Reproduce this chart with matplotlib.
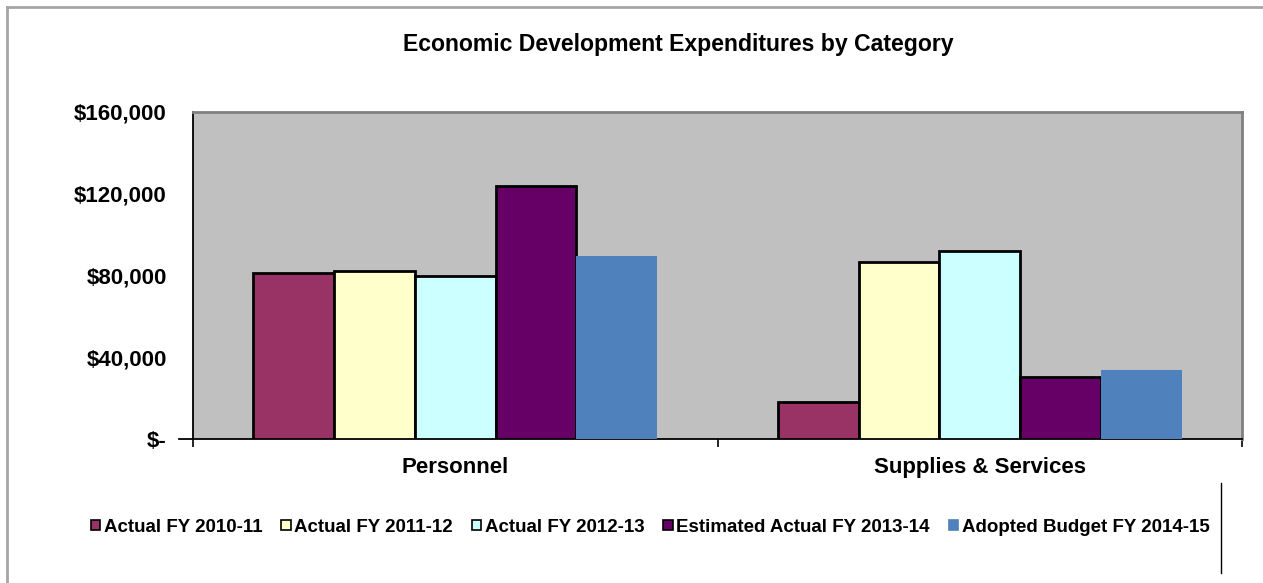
import numpy as np
import matplotlib
matplotlib.use("Agg")
import matplotlib.pyplot as plt
from matplotlib.patches import Patch
from matplotlib.lines import Line2D

plt.rcParams['font.family'] = ['Liberation Sans', 'DejaVu Sans']
plt.rcParams['font.weight'] = 'bold'

# Spending by category and fiscal year
categories = ["Personnel", "Supplies & Services"]
series_names = ["Actual FY 2010-11", "Actual FY 2011-12", "Actual FY 2012-13",
                "Estimated Actual FY 2013-14", "Adopted Budget FY 2014-15"]
fy2010 = [81000, 18200]
fy2011 = [82000, 86600]
fy2012 = [79900, 92000]
fy2013 = [123700, 30400]
fy2014 = [89400, 33900]
yticks = [0, 40000, 80000, 120000, 160000]
ytick_labels = ["$-", "$40,000", "$80,000", "$120,000", "$160,000"]

values = [fy2010, fy2011, fy2012, fy2013, fy2014]
colors = ["#993366", "#FFFFCC", "#CCFFFF", "#660066", "#4F81BD"]
edges = ["black", "black", "black", "black", "none"]

W, H = 1263, 583
fig = plt.figure(figsize=(W / 100, H / 100), dpi=100)
ax = fig.add_axes([193 / W, 1 - 439.3 / H, (1242 - 193) / W, (439.3 - 111.7) / H])
ax.set_facecolor("#C0C0C0")

x = np.arange(len(categories))
bw = 0.154
for i, (vals, c, e) in enumerate(zip(values, colors, edges)):
    ax.bar(x + (i - 2) * bw, vals, bw, color=c, edgecolor=e,
           linewidth=2 if e != "none" else 0, zorder=3)

ax.set_xlim(-0.5, 1.5)
ax.set_ylim(0, 160000)
ax.set_yticks(yticks)
ax.set_yticklabels(ytick_labels, fontsize=16, fontweight='bold')
ax.tick_params(axis='y', length=0, pad=19)

ax.set_xticks(x)
ax.set_xticklabels(categories, fontsize=16, fontweight='bold')
ax.tick_params(axis='x', which='major', length=0, pad=13)
ax.set_xticks([-0.5, 0.5, 1.5], minor=True)
ax.tick_params(axis='x', which='minor', length=6, width=1.2, color='black', direction='out')

for side in ["top", "right"]:
    ax.spines[side].set_color("#808080")
    ax.spines[side].set_linewidth(2)
for side in ["left", "bottom"]:
    ax.spines[side].set_color("black")
    ax.spines[side].set_linewidth(1.3)

# short stub of the zero line left of the axis
ax.plot([-0.013, 0], [0, 0], transform=ax.transAxes, color="black",
        linewidth=1.3, clip_on=False)

fig.text(678 / W, 1 - 45 / H, "Economic Development Expenditures by Category",
         ha='center', va='center', fontsize=16.6, fontweight='bold')

handles = [Patch(facecolor=c, edgecolor=("black" if e != "none" else c), linewidth=1.2)
           for c, e in zip(colors, edges)]
fig.legend(handles, series_names, loc='center', bbox_to_anchor=(650 / W, 1 - 527 / H),
           ncol=5, frameon=False, fontsize=13.5, handlelength=0.5, handleheight=0.5,
           handletextpad=0.2, columnspacing=1.0, borderaxespad=0)

# chart frame and stray legend edge
fig.add_artist(Line2D([7 / W, 7 / W], [0, 1 - 7 / H], color="#A6A6A6", linewidth=2))
fig.add_artist(Line2D([7 / W, 1], [1 - 7 / H, 1 - 7 / H], color="#A6A6A6", linewidth=2))
fig.add_artist(Line2D([1221 / W, 1221 / W], [1 - 483 / H, 1 - 573 / H], color="black", linewidth=1))

fig.savefig("out.png", dpi=100)
